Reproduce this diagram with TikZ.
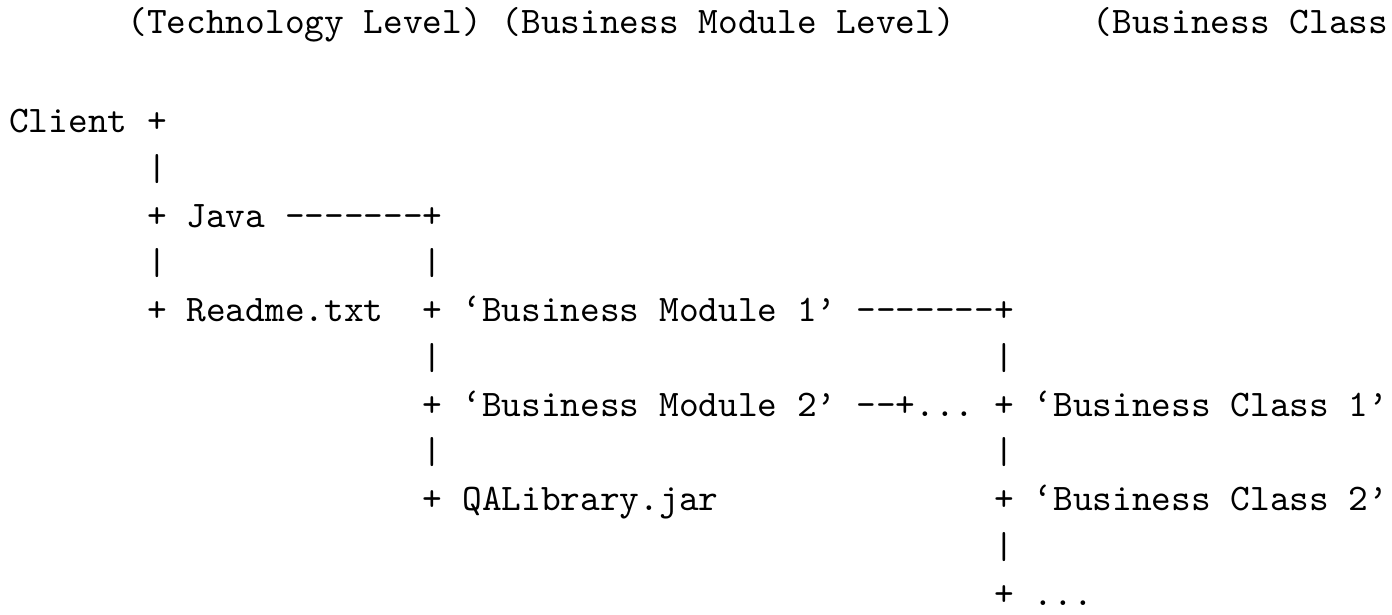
\documentclass[tikz,border=0pt]{standalone}
\usepackage{tikz}

\begin{document}
\begin{tikzpicture}[
  x=5.25pt, y=-12.59pt,
  txt/.style={anchor=base west, inner sep=0pt, outer sep=0pt, font=\ttfamily},
]
  \useasboundingbox (-0.472,0.185) rectangle (70.19,13.2);

  % Level captions; one unit in x is one character, one in y is one line.
  \node[txt] (techlvl) at (6,0.89) {(Technology Level)};
  \node[txt] (modlvl) at (25,0.89) {(Business Module Level)};
  \node[txt] (classlvl) at (55,0.89) {(Business Class};

  % Technology level
  \node[txt] (client) at (0,3) {Client +};
  \node[txt] (bar1) at (7,4) {|};
  \node[txt] (java) at (7,5) {+ Java -------+};
  \node[txt] (bar2) at (7,6) {|};
  \node[txt] (bar3) at (21,6) {|};
  \node[txt] (readme) at (7,7) {+ Readme.txt};

  % Business module level
  \node[txt] (mod1) at (21,7) {+ ‘Business Module 1’ -------+};
  \node[txt] (bar4) at (21,8) {|};
  \node[txt] (bar5) at (50,8) {|};
  \node[txt] (mod2) at (21,9) {+ ‘Business Module 2’ --+...};
  \node[txt] (bar6) at (21,10) {|};
  \node[txt] (qalib) at (21,11) {+ QALibrary.jar};

  % Business class level
  \node[txt] (class1) at (50,9) {+ ‘Business Class 1’};
  \node[txt] (bar7) at (50,10) {|};
  \node[txt] (class2) at (50,11) {+ ‘Business Class 2’};
  \node[txt] (bar8) at (50,12) {|};
  \node[txt] (more) at (50,13) {+ ...};
\end{tikzpicture}
\end{document}
